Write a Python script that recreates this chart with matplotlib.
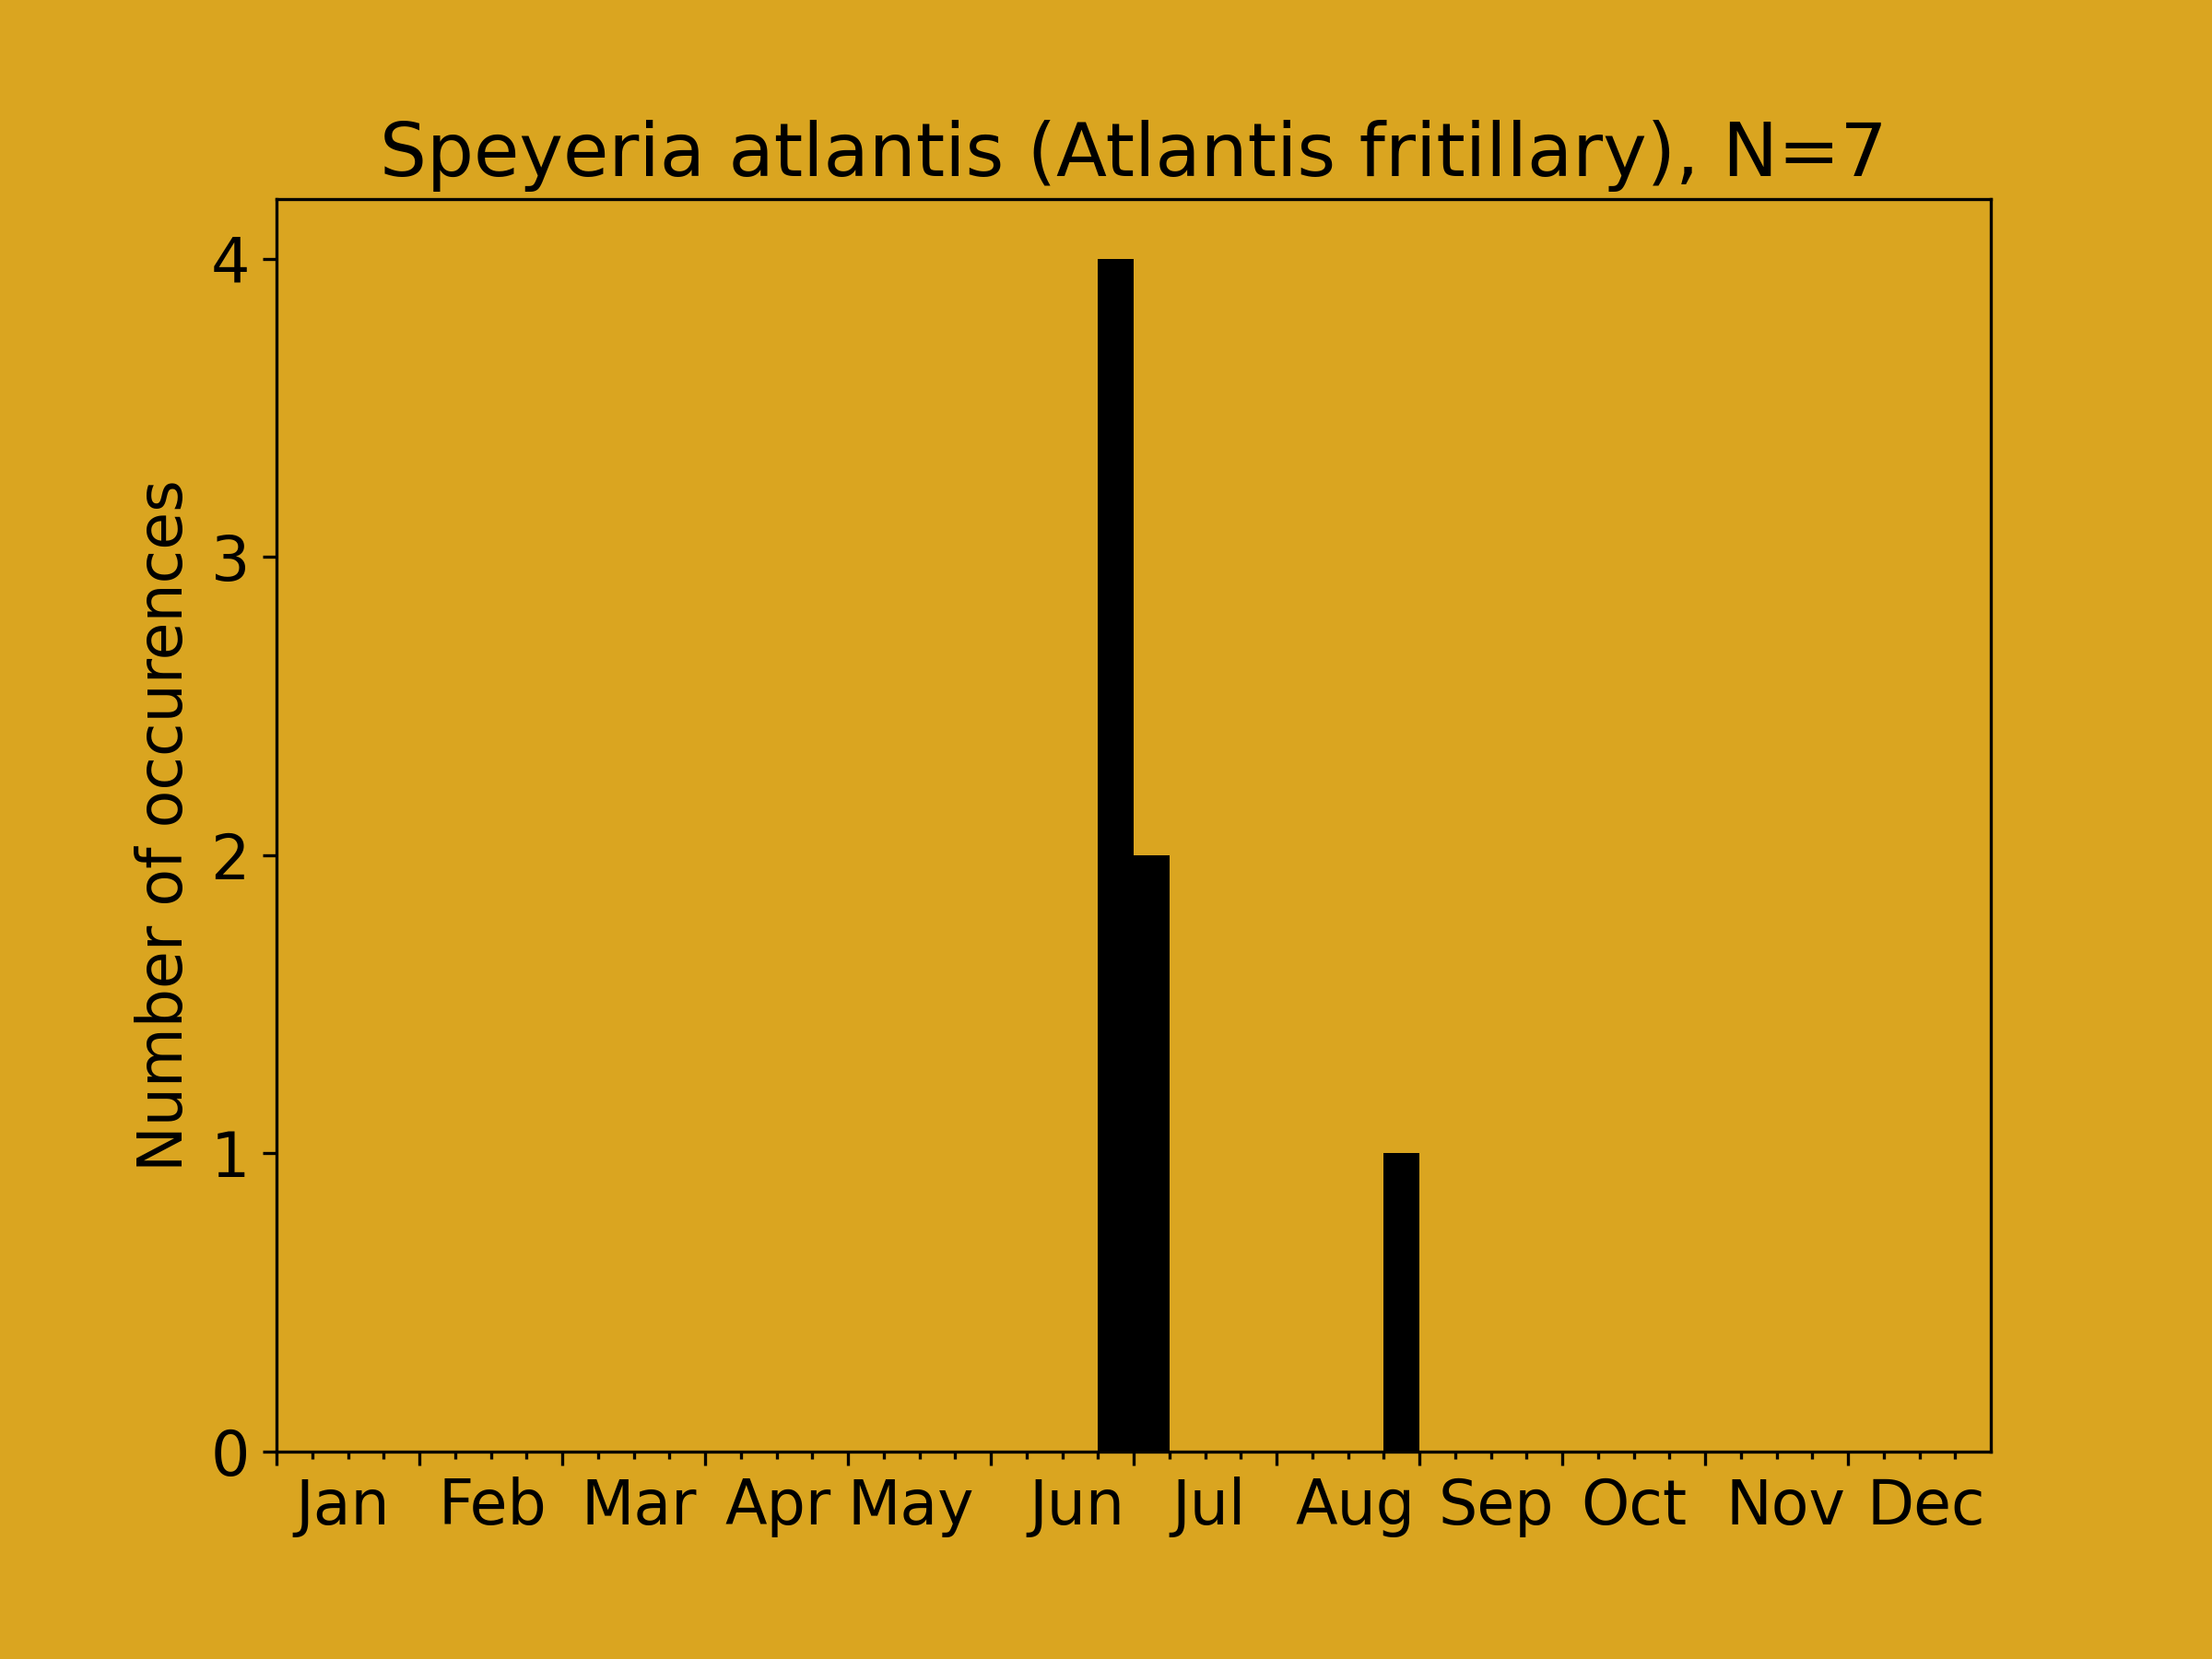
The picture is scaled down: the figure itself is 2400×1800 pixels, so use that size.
import matplotlib
matplotlib.use("Agg")
import matplotlib.pyplot as plt
import numpy as np

# Weekly bins (4 per month, 48 total)
counts = [0]*48
counts[23] = 4
counts[24] = 2
counts[31] = 1
bin_edges = list(range(49))
months = ["Jan", "Feb", "Mar", "Apr", "May", "Jun", "Jul", "Aug", "Sep", "Oct", "Nov", "Dec"]
month_label_pos = [1.85, 6.05, 10.15, 14.05, 17.75, 22.4, 26.1, 30.2, 34.15, 38.0, 42.25, 46.2]
yticks = [0, 1, 2, 3, 4]
title = "Speyeria atlantis (Atlantis fritillary), N=7"
ylabel = "Number of occurences"

bg = "#DAA520"
fig = plt.figure(figsize=(8, 6), dpi=300, facecolor=bg)
ax = fig.add_axes([0.125, 0.125, 0.775, 0.755])
ax.set_facecolor(bg)

ax.hist(bin_edges[:-1], bins=bin_edges, weights=counts, color="black")
ax.set_xlim(0, 48)
ax.set_ylim(0, 4.2)

ax.set_xticks(range(0, 48, 4))
ax.set_xticks(range(0, 48), minor=True)
ax.set_xticklabels([])
ax.tick_params(axis="x", which="major", length=3.5, width=0.8)
ax.tick_params(axis="x", which="minor", length=2, width=0.8)
ax.set_yticks(yticks)
ax.tick_params(axis="y", labelsize=16, length=3.5)

for pos, m in zip(month_label_pos, months):
    ax.annotate(m, xy=(pos, 0), xycoords=("data", "axes fraction"),
                xytext=(0, -6.5), textcoords="offset points",
                ha="center", va="top", fontsize=16)

ax.set_title(title, fontsize=19.3)
ax.set_ylabel(ylabel, fontsize=16)

fig.savefig("out.png", dpi=300, facecolor=bg)
